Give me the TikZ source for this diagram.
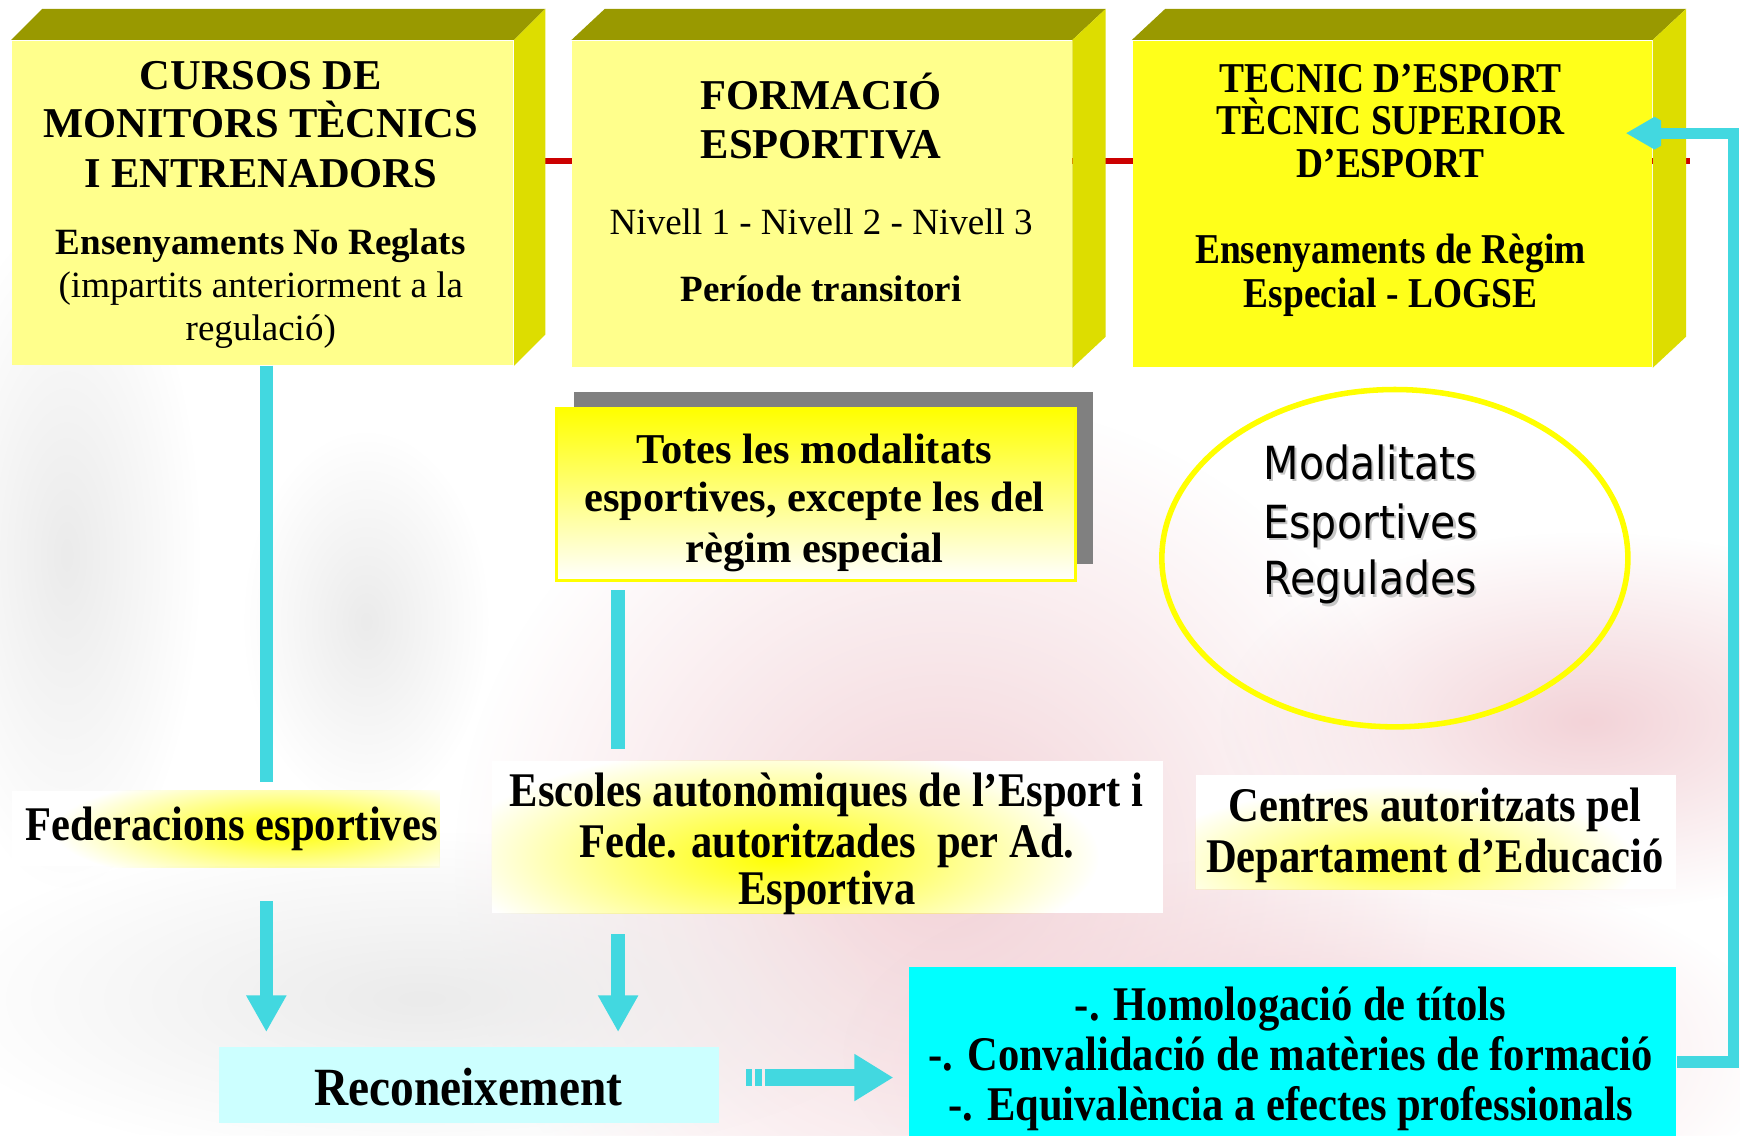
\documentclass[tikz,border=0pt]{standalone}
\usepackage{fontspec}
\setmainfont{Liberation Serif}
\newfontfamily\condf[FakeStretch=0.88]{Liberation Serif}
\newfontfamily\sansf[FakeStretch=0.9]{DejaVu Sans}
\usetikzlibrary{arrows.meta,shapes.geometric,shadows,calc,fadings,backgrounds}
\definecolor{topf}{HTML}{999900}
\definecolor{sidef}{HTML}{DDDD00}
\definecolor{frontA}{HTML}{FFFF8C}
\definecolor{frontB}{HTML}{FFFF1A}
\definecolor{shadowg}{HTML}{808080}
\definecolor{cy}{HTML}{42D8E0}
\definecolor{lcy}{HTML}{CCFFFF}
\definecolor{aqua}{HTML}{00FFFF}
\definecolor{redl}{HTML}{CC0000}
\definecolor{ylw}{HTML}{FFFF00}
\definecolor{wmpink}{HTML}{F3D3D8}
\definecolor{wmgrey}{HTML}{EBEBEB}
\tikzfading[name=fuzzy, inner color=transparent!0, outer color=transparent!100]
\newcommand\fsz[2]{\fontsize{#1}{#2}\selectfont}
\tikzset{
  face/.style={inner sep=0pt, anchor=north west},
  tl/.style={anchor=base, inner sep=0pt},
  tlw/.style={anchor=base west, inner sep=0pt},
  ttl/.style={tl, font=\bfseries\fsz{10.9}{12.5}},
  tsb/.style={tl, font=\bfseries\fsz{9.5}{11}},
  tsr/.style={tl, font=\fsz{9.5}{11}},
  tcb/.style={tl, font=\condf\bfseries\fsz{10.9}{11}},
  tlow/.style={tl, font=\condf\bfseries\fsz{12.4}{13}},
  tsan/.style={tlw, font=\sansf\fsz{11.7}{14}},
  cline/.style={draw=cy, line width=1.2mm},
  carrow/.style={draw=cy, line width=1.2mm, -{Triangle[length=3.3mm,width=3.4mm]}},
  blob/.style={path fading=fuzzy},
}
\begin{document}
\begin{tikzpicture}[x=0.1mm,y=-0.1mm]
\useasboundingbox (0,0) rectangle (1568,1023);
% boxes (front faces)
\node[face, fill=frontA, minimum width=45.2mm, minimum height=29.2mm] (b1) at (10,36) {};
\node[face, fill=frontA, minimum width=45.0mm, minimum height=29.4mm] (b2) at (515,36) {};
\node[face, fill=frontB, minimum width=46.8mm, minimum height=29.4mm] (b3) at (1020,36) {};
\coordinate (redend) at (1523,145);
\begin{pgfonlayer}{background}
\fill[white] (0,0) rectangle (1568,1023);
% faint background watermark
\fill[wmpink, blob] (850,780) ellipse (440 and 420);
\fill[wmpink, blob] (1430,650) ellipse (330 and 170);
\fill[wmpink, blob] (1180,950) ellipse (420 and 180);
\fill[wmgrey, blob] (60,500) ellipse (120 and 300);
\fill[wmgrey, blob] (330,560) ellipse (110 and 170);
\fill[wmgrey, blob] (380,900) ellipse (440 and 150);
% red line behind the boxes
\draw[redl, line width=0.5mm] (b1.east |- redend) -- (redend);
\end{pgfonlayer}
\foreach \b/\d in {b1/28,b2/30,b3/30}{
  \fill[topf] (\b.north west) -- ++(\d,-28) -- ([shift={(\d,-28)}]\b.north east) -- (\b.north east) -- cycle;
  \fill[sidef] (\b.north east) -- ++(\d,-28) -- ([shift={(\d,-28)}]\b.south east) -- (\b.south east) -- cycle;
}
% texts box 1
\node[ttl] (t11) at (235,81) {CURSOS DE};
\node[ttl] (t12) at (235,124) {MONITORS TÈCNICS};
\node[ttl] (t13) at (235,169) {I ENTRENADORS};
\node[tsb] (t14) at (235,229) {Ensenyaments No Reglats};
\node[tsr] (t15) at (235,268) {(impartits anteriorment a la};
\node[tsr] (t16) at (235,307) {regulació)};
% texts box 2
\node[ttl] (t21) at (740,99) {FORMACIÓ};
\node[ttl] (t22) at (740,143) {ESPORTIVA};
\node[tsr] (t23) at (740,211) {Nivell 1 - Nivell 2 - Nivell 3};
\node[tsb] (t24) at (740,272) {Període transitori};
% texts box 3
\node[tcb] (t31) at (1253,83) {TECNIC D’ESPORT};
\node[tcb] (t32) at (1253,121) {TÈCNIC SUPERIOR};
\node[tcb] (t33) at (1253,160) {D’ESPORT};
\node[tcb] (t34) at (1253,237) {Ensenyaments de Règim};
\node[tcb] (t35) at (1253,277) {Especial - LOGSE};
% Totes box
\node[face, draw=ylw, line width=0.25mm, top color=ylw, bottom color=white,
      general shadow={fill=shadowg, shadow xshift=1.6mm, shadow yshift=1.5mm},
      minimum width=46.8mm, minimum height=15.5mm] (tot) at (500,367) {};
\node[ttl] (t41) at (734,418) {Totes les modalitats};
\node[ttl] (t42) at (734,461) {esportives, excepte les del};
\node[ttl] (t43) at (734,507) {règim especial};
% ellipse
\node[ellipse, draw=ylw, line width=0.5mm, minimum width=42mm, minimum height=30.4mm] (ell) at (1257,503) {};
\node[tsan, text=gray!45] (s51) at (1140,434) {Modalitats};
\node[tsan, text=gray!45] (s52) at (1140,487) {Esportives};
\node[tsan, text=gray!45] (s53) at (1140,538) {Regulades};
\node[tsan] (t51) at (1138,432) {Modalitats};
\node[tsan] (t52) at (1138,485) {Esportives};
\node[tsan] (t53) at (1138,536) {Regulades};
% Federacions
\node[face, fill=white, minimum width=38.5mm, minimum height=6.8mm] (fed) at (10,712) {};
\begin{scope}
\clip (fed.north west) rectangle (fed.south east);
\fill[ylw, blob] (258,748) ellipse (210 and 52);
\end{scope}
\node[tlow, anchor=base west] (t61) at (22,757) {Federacions esportives};
% Escoles
\node[face, fill=white, minimum width=60.4mm, minimum height=13.7mm] (esc) at (443,685) {};
\begin{scope}
\clip (esc.north west) rectangle (esc.south east);
\fill[ylw, blob] (700,772) ellipse (290 and 100);
\end{scope}
\node[tlow] (t71) at (745,727) {Escoles autonòmiques de l’Esport i};
\node[tlow] (t72) at (745,773) {Fede. autoritzades~ per Ad.};
\node[tlow] (t73) at (745,815) {Esportiva};
% Centres
\node[face, fill=white, minimum width=43.3mm, minimum height=10.2mm] (cen) at (1077,698) {};
\begin{scope}
\clip (cen.north west) rectangle (cen.south east);
\fill[ylw!75, blob] (1255,778) ellipse (220 and 70);
\end{scope}
\node[tlow] (t81) at (1293,740) {Centres autoritzats pel};
\node[tlow] (t82) at (1293,786) {Departament d’Educació};
% Reconeixement
\node[face, fill=lcy, minimum width=45.0mm, minimum height=6.8mm] (rec) at (197,943) {};
\node[tl, font=\condf\bfseries\fsz{13.8}{15}] (t91) at (422,996) {Reconeixement};
% Homologacio box
\node[face, fill=aqua, minimum width=69.2mm, minimum height=15.4mm] (hom) at (818,871) {};
\node[tlow] (t101) at (1163,920) {-. Homologació de títols};
\node[tlow] (t102) at (1163,965) {-. Convalidació de matèries de formació};
\node[tlow] (t103) at (1163,1010) {-. Equivalència a efectes professionals};
% connectors
\coordinate (f1) at (240,705);
\draw[cline] (b1.south -| f1) -- (f1);
\coordinate (a1s) at (240,812);
\coordinate (a1e) at (240,930);
\draw[carrow] (a1s) -- (a1e);
\coordinate (m1s) at (557,532);
\coordinate (m1e) at (557,675);
\draw[cline] (m1s) -- (m1e);
\coordinate (m2s) at (557,842);
\coordinate (m2e) at (557,930);
\draw[carrow] (m2s) -- (m2e);
% striped arrow
\coordinate (ra0) at (672,971);
\coordinate (ra1) at (689,971);
\coordinate (ra2) at (805,971);
\fill[cy] ([yshift=0.8mm]ra0) rectangle ++(5.5,16);
\fill[cy] ([shift={(8.5,0)}]ra0) ++(0,-8) rectangle ++(6,16);
\draw[cy, line width=1.6mm, -{Triangle[length=3.5mm,width=4mm]}] (ra1) -- (ra2);
% return connector
\coordinate (c1) at (1562,957);
\coordinate (c2) at (1562,120);
\coordinate (tip3) at (1465,120);
\draw[cy, line width=1.0mm, miter limit=2, -{Triangle[length=3.2mm,width=3.4mm]}] (hom.east |- c1) -- (c1) -- (c2) -- (tip3);
\end{tikzpicture}
\end{document}
